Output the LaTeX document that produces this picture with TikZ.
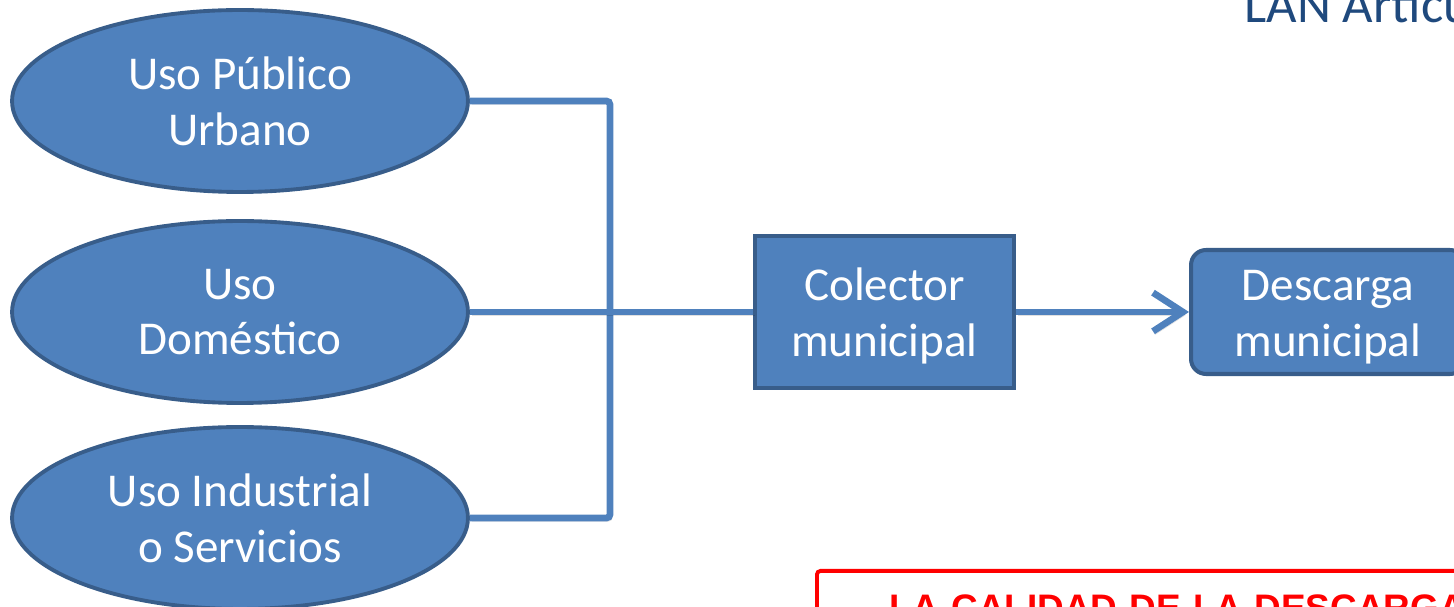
\documentclass[tikz,border=0pt]{standalone}
\usepackage{fontspec}
\setmainfont{Carlito}
\newfontfamily\arialfont{Liberation Sans}
\usetikzlibrary{positioning,shapes.geometric,arrows.meta}
\definecolor{usoblue}{HTML}{4F81BD}
\definecolor{usoedge}{HTML}{385D8A}
\definecolor{titleblue}{HTML}{1F497D}

\begin{document}
\begin{tikzpicture}[x=0.02cm, y=-0.02cm]
        \tikzstyle{uso} = [ellipse, minimum width=9.12cm, minimum height=3.64cm, inner sep=0pt, align=center, draw=usoedge, line width=2.2pt, fill=usoblue, text=white, font=\fontsize{26.8}{31.7}\selectfont]
        \tikzstyle{box} = [rectangle, minimum width=5.18cm, minimum height=3.04cm, inner sep=0pt, align=center, draw=usoedge, line width=2.3pt, fill=usoblue, text=white, text height=55.5pt, text depth=5pt, font=\fontsize{26.8}{31.7}\selectfont]
        \tikzstyle{pipe} = [usoblue, line width=3.8pt, rounded corners=2pt, preaction={draw=black, opacity=0.12, transform canvas={shift={(1.2pt,-1.8pt)}}}]
        \tikzstyle{arrow} = [pipe, -{Straight Barb[length=17pt, width=22pt]}]

        \useasboundingbox (0,0) rectangle (1454,607);
        \clip (0,0) rectangle (1454,607);

        \node (lan) [anchor=base west, inner sep=0pt, text=titleblue, font=\fontsize{30}{35}\selectfont] at (1244,23) {LAN Artículo};

        \node (urbano) [uso] at (240,101) {Uso Público\\Urbano};
        \node (domestico) [uso] at (240,312) {Uso\\Doméstico};
        \node (industrial) [uso] at (240,518) {Uso Industrial\\o Servicios};
        \coordinate (junction) at (610,312);

        \node (colector) [box] at (884.5,312) {Colector\\municipal};
        \node (descarga) [box, rounded corners=0.3cm, minimum width=5.48cm, minimum height=2.48cm] at (1328,312) {Descarga\\municipal};

        \draw [pipe] (urbano.east) -| (junction) |- (industrial.east);
        \draw [pipe] (domestico.east) -- (colector.west);
        \draw [arrow] (colector.east) -- (descarga.west);

        \node (calidad) [anchor=north west, draw=red, line width=2.2pt, rounded corners=2pt, text=red, font=\arialfont\bfseries\fontsize{21}{25}\selectfont, text width=20cm, align=left, inner xsep=1.46cm, inner ysep=0.48cm] at (815,569) {LA CALIDAD DE LA DESCARGA};
\end{tikzpicture}
\end{document}
